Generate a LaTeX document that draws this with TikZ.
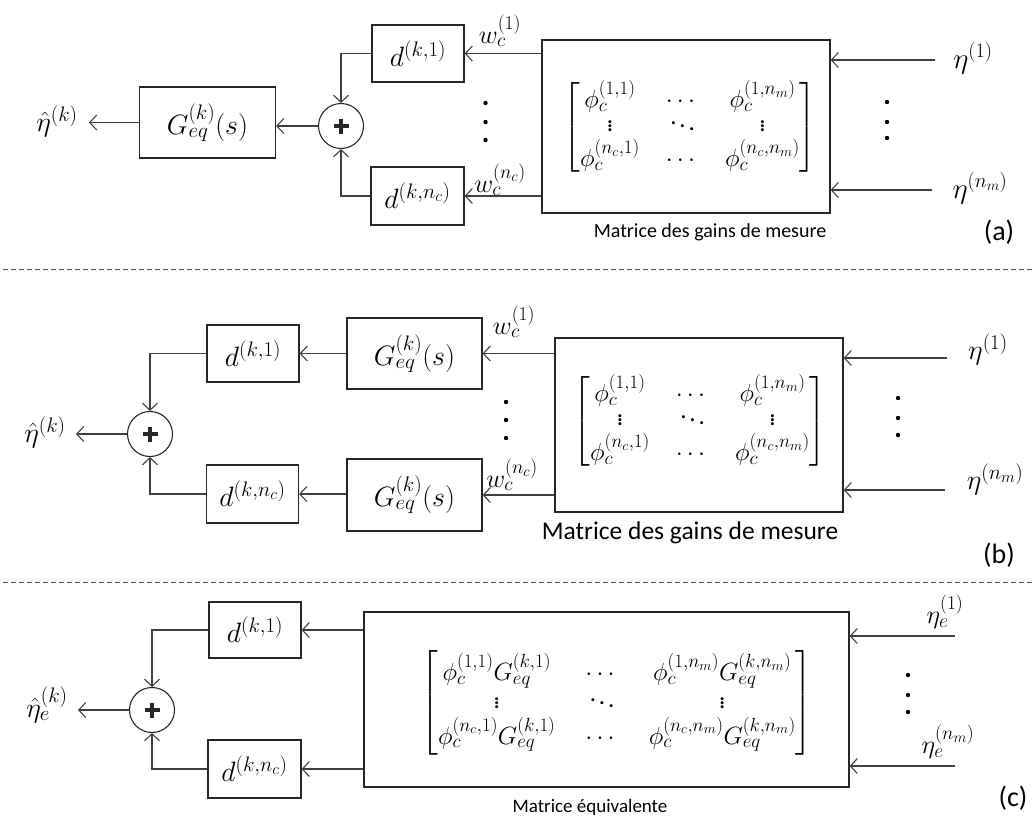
\RequirePackage{fix-cm}
\documentclass[tikz,border=0pt]{standalone}
\usepackage{amsmath}
\usepackage[no-math]{fontspec}
\setmainfont{Carlito}
\usetikzlibrary{arrows.meta}
\DeclareMathSizes{28}{28}{21}{16}
\DeclareMathSizes{26}{26}{19.5}{15}
\DeclareMathSizes{25}{25}{19}{14}
\tikzset{
  blk/.style={draw=black!85, line width=1.2pt, inner sep=0pt},
  arr/.style={draw=black!75, line width=1.1pt, -{Straight Barb[length=7pt,width=15pt,line width=1.1pt]}},
  sumnode/.style={circle, draw=black!85, line width=1.1pt, minimum size=45pt, inner sep=0pt,
    path picture={\draw[line width=4.6pt] (path picture bounding box.center) +(-7.5pt,0) -- +(7.5pt,0);
                  \draw[line width=4.6pt] (path picture bounding box.center) +(0,-7.5pt) -- +(0,7.5pt);}},
  mlbl/.style={inner sep=0pt, font=\fontsize{28}{32}\selectfont},
  slbl/.style={inner sep=0pt, font=\fontsize{26}{30}\selectfont},
  mat/.style={inner sep=0pt, font=\fontsize{25}{29}\selectfont\setlength{\arraycolsep}{13pt}\renewcommand{\arraystretch}{0.82}},
  matc/.style={inner sep=0pt, font=\fontsize{25}{29}\selectfont\setlength{\arraycolsep}{15pt}\renewcommand{\arraystretch}{0.95}},
  captext/.style={inner sep=0pt, font=\fontsize{20}{24}\selectfont},
  plbl/.style={inner sep=0pt, font=\fontsize{28}{32}\selectfont},
  sepline/.style={draw=black!70, line width=1pt, dash pattern=on 5pt off 3pt},
}
\begin{document}
\begin{tikzpicture}[x=1pt,y=-1pt]
\useasboundingbox (0,0) rectangle (1035,823);
% ---------------- panel (a)
\node[blk, minimum width=136pt, minimum height=71pt, mlbl] (Ga) at (207.5,122.5) {$G_{eq}^{(k)}(s)$};
\node[sumnode] (Sa) at (341,126) {};
\node[blk, minimum width=92pt, minimum height=57pt, mlbl] (D1a) at (418,53.5) {$d^{(k,1)}$};
\node[blk, minimum width=93pt, minimum height=58pt, mlbl] (DNa) at (417.5,196) {$d^{(k,n_c)}$};
\node[blk, minimum width=288pt, minimum height=173pt] (Ma) at (686,126.5) {};
\node[mat] (MXa) at (690,127) {$\begin{bmatrix} \phi_c^{(1,1)} & \cdots & \phi_c^{(1,n_m)}\\ \vdots & \ddots & \vdots \\ \phi_c^{(n_c,1)} & \cdots & \phi_c^{(n_c,n_m)} \end{bmatrix}$};
\node[mlbl] (Oa) at (57,121) {$\hat\eta^{(k)}$};
\coordinate (OEa) at (89,122.5);
\node[slbl] (W1a) at (500,31) {$w_c^{(1)}$};
\node[slbl] (WNa) at (500,180) {$w_c^{(n_c)}$};
\node[mlbl, font=\fontsize{29}{33}\selectfont] (E1a) at (973,58) {$\eta^{(1)}$};
\node[mlbl, font=\fontsize{29}{33}\selectfont] (ENa) at (980,188) {$\eta^{(n_m)}$};
\coordinate (I1a) at (935,60);
\coordinate (INa) at (932,190);
\node[captext] (Ca) at (710,232) {Matrice des gains de mesure};
\node[plbl] (La) at (999,232) {(a)};
\draw[arr] (Ga.west) -- (Ga.west -| OEa);
\draw[arr] (Sa.west) -- (Sa.west -| Ga.east);
\draw[arr] (D1a.west) -| (Sa.north);
\draw[arr] (DNa.west) -| (Sa.south);
\draw[arr] (Ma.west |- D1a) -- (D1a.east);
\draw[arr] (Ma.west |- DNa) -- (DNa.east);
\draw[arr] (I1a) -- (I1a -| Ma.east);
\draw[arr] (INa) -- (INa -| Ma.east);
\foreach \y in {103,122,140} \fill (485.5,\y) circle (2.2);
\foreach \y in {102,122,138} \fill (887,\y) circle (2.2);
\draw[sepline] (3,269) -- (1035,269);
% ---------------- panel (b)
\node[sumnode] (Sb) at (150,434) {};
\node[blk, minimum width=92pt, minimum height=57pt, mlbl] (D1b) at (253,353.5) {$d^{(k,1)}$};
\node[blk, minimum width=92pt, minimum height=58pt, mlbl] (DNb) at (252.5,494) {$d^{(k,n_c)}$};
\node[blk, minimum width=135pt, minimum height=71pt, mlbl] (G1b) at (414.5,353.5) {$G_{eq}^{(k)}(s)$};
\node[blk, minimum width=135pt, minimum height=72pt, mlbl] (G2b) at (414.5,495) {$G_{eq}^{(k)}(s)$};
\node[blk, minimum width=288pt, minimum height=174pt] (Mb) at (699,425) {};
\node[mat] (MXb) at (700,421) {$\begin{bmatrix} \phi_c^{(1,1)} & \cdots & \phi_c^{(1,n_m)}\\ \vdots & \ddots & \vdots \\ \phi_c^{(n_c,1)} & \cdots & \phi_c^{(n_c,n_m)} \end{bmatrix}$};
\node[mlbl] (Ob) at (45,432) {$\hat\eta^{(k)}$};
\coordinate (OEb) at (76,434);
\node[slbl] (W1b) at (514,322) {$w_c^{(1)}$};
\node[slbl] (WNb) at (512,475) {$w_c^{(n_c)}$};
\node[mlbl] (E1b) at (988,349) {$\eta^{(1)}$};
\node[mlbl] (ENb) at (995,479) {$\eta^{(n_m)}$};
\coordinate (I1b) at (947,358);
\coordinate (INb) at (945,490);
\node[captext, font=\fontsize{25.5}{29}\selectfont] (Cb) at (690,533) {Matrice des gains de mesure};
\node[plbl] (Lb) at (999,555) {(b)};
\draw[arr] (Sb.west) -- (Sb.west -| OEb);
\draw[arr] (D1b.west) -| (Sb.north);
\draw[arr] (DNb.west) -| (Sb.south);
\draw[arr] (G1b.west) -- (D1b.east);
\draw[arr] (G2b.west |- DNb) -- (DNb.east);
\draw[arr] (Mb.west |- G1b) -- (G1b.east);
\draw[arr] (Mb.west |- G2b) -- (G2b.east);
\draw[arr] (I1b) -- (I1b -| Mb.east);
\draw[arr] (INb) -- (INb -| Mb.east);
\foreach \y in {402,420,438} \fill (506,\y) circle (2.2);
\foreach \y in {398,418,435} \fill (898,\y) circle (2.2);
\draw[sepline] (3,582) -- (1035,582);
% ---------------- panel (c)
\node[sumnode] (Sc) at (152,710) {};
\node[blk, minimum width=92pt, minimum height=56pt, mlbl] (D1c) at (255,630) {$d^{(k,1)}$};
\node[blk, minimum width=93pt, minimum height=58pt, mlbl] (DNc) at (254.5,769) {$d^{(k,n_c)}$};
\node[blk, minimum width=485pt, minimum height=175pt] (Mc) at (606.5,699.5) {};
\node[matc] (MXc) at (617,703) {$\begin{bmatrix} \phi_c^{(1,1)}G_{eq}^{(k,1)} & \cdots & \phi_c^{(1,n_m)}G_{eq}^{(k,n_m)}\\ \vdots & \ddots & \vdots \\ \phi_c^{(n_c,1)}G_{eq}^{(k,1)} & \cdots & \phi_c^{(n_c,n_m)}G_{eq}^{(k,n_m)} \end{bmatrix}$};
\node[mlbl] (Oc) at (47,705) {$\hat\eta_e^{(k)}$};
\coordinate (OEc) at (78,712);
\node[slbl] (E1c) at (945,612) {$\eta_e^{(1)}$};
\node[slbl] (ENc) at (948,742) {$\eta_e^{(n_m)}$};
\coordinate (I1c) at (955,636);
\coordinate (INc) at (955,766);
\node[captext, font=\fontsize{19}{22}\selectfont] (Cc) at (590,807) {Matrice équivalente};
\node[plbl] (Lc) at (1013,798) {(c)};
\draw[arr] (Sc.west) -- (Sc.west -| OEc);
\draw[arr] (D1c.west) -| (Sc.north);
\draw[arr] (DNc.west) -| (Sc.south);
\draw[arr] (Mc.west |- D1c) -- (D1c.east);
\draw[arr] (Mc.west |- DNc) -- (DNc.east);
\draw[arr] (I1c) -- (I1c -| Mc.east);
\draw[arr] (INc) -- (INc -| Mc.east);
\foreach \y in {675,695,712} \fill (908,\y) circle (2.2);
\end{tikzpicture}
\end{document}
